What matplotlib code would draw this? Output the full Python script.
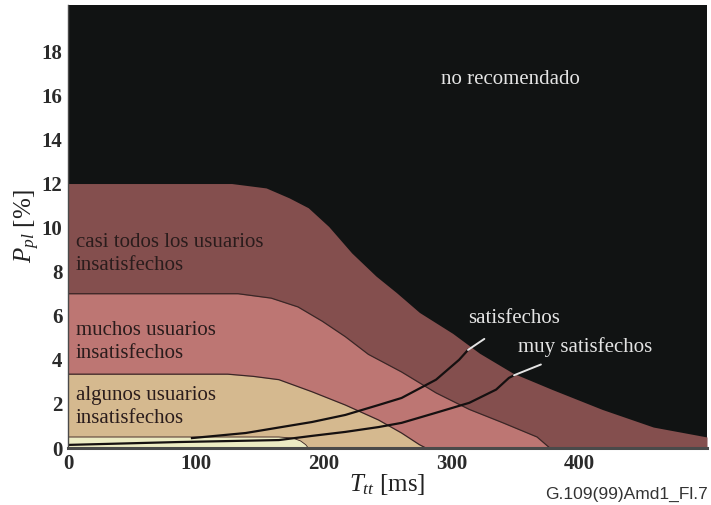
import matplotlib
matplotlib.use("Agg")
import matplotlib.pyplot as plt

plt.rcParams['mathtext.fontset'] = 'custom'
plt.rcParams['mathtext.rm'] = 'Liberation Serif'
plt.rcParams['mathtext.it'] = 'Liberation Serif:italic'
plt.rcParams['font.family'] = ['Liberation Serif', 'DejaVu Serif']

# ---- data (T [ms], P [%]) ----
casi_x = [0, 128, 155, 173, 188, 204, 222, 241, 257, 275, 301, 322, 348, 379, 418, 458, 500]
casi_y = [12, 12, 11.8, 11.35, 10.9, 10.05, 8.85, 7.8, 7.05, 6.15, 5.2, 4.3, 3.4, 2.65, 1.75, 0.95, 0.5]

muchos_x = [0, 133, 159, 180, 199, 217, 235, 261, 288, 314, 340, 367, 377]
muchos_y = [7, 7, 6.8, 6.4, 5.75, 5.05, 4.25, 3.45, 2.5, 1.75, 1.15, 0.5, 0]

algunos_x = [0, 125, 145, 165, 191, 217, 243, 261, 275, 280]
algunos_y = [3.35, 3.35, 3.25, 3.1, 2.55, 1.95, 1.27, 0.68, 0.15, 0]

light_x = [0, 165, 176, 182, 186, 188]
light_y = [0.5, 0.5, 0.45, 0.32, 0.15, 0]

sat_x = [97, 139, 191, 217, 243, 261, 288, 306, 313]
sat_y = [0.45, 0.68, 1.18, 1.5, 1.95, 2.27, 3.1, 4.0, 4.45]

muy_x = [0, 86, 165, 191, 217, 243, 261, 288, 314, 335, 345, 349]
muy_y = [0.14, 0.27, 0.36, 0.55, 0.73, 0.95, 1.14, 1.6, 2.05, 2.65, 3.18, 3.3]

region_labels = ["no recomendado",
                 "casi todos los usuarios\ninsatisfechos",
                 "muchos usuarios\ninsatisfechos",
                 "algunos usuarios\ninsatisfechos"]
curve_labels = ["satisfechos", "muy satisfechos"]
xticks = [0, 100, 200, 300, 400]
yticks = [0, 2, 4, 6, 8, 10, 12, 14, 16, 18]

c_black = '#111313'
c_casi = '#844f4e'
c_muchos = '#bd7673'
c_algunos = '#d5b98f'
c_light = '#ecebc3'
c_edge = '#3a2626'

fig = plt.figure(figsize=(7.11, 5.05), dpi=100)
ax = fig.add_axes([68/711, (505-448)/505, (707-68)/711, (448-5)/505])
ax.set_facecolor(c_black)

ax.fill_between(casi_x, 0, casi_y, color=c_casi, lw=0)
ax.fill_between(muchos_x, 0, muchos_y, color=c_muchos, lw=0)
ax.plot(muchos_x, muchos_y, color=c_edge, lw=0.9)
ax.fill_between(algunos_x, 0, algunos_y, color=c_algunos, lw=0)
ax.plot(algunos_x, algunos_y, color=c_edge, lw=0.9)
ax.fill_between(light_x, 0, light_y, color=c_light, lw=0)
ax.plot(light_x, light_y, color=c_edge, lw=0.6)

ax.plot(sat_x, sat_y, color='#151010', lw=1.6)
ax.plot(muy_x, muy_y, color='#151010', lw=1.6)

ax.set_xlim(0, 500)
ax.set_ylim(0, 20.1)

txt_dark = '#2a1c1c'
fs = 15
ax.text(346, 16.7, region_labels[0], color='#e4e4e4', fontsize=fs, ha='center', va='center')
ax.text(6, 8.8, region_labels[1], color=txt_dark, fontsize=fs, ha='left', va='center', linespacing=1.3)
ax.text(6, 4.8, region_labels[2], color=txt_dark, fontsize=fs, ha='left', va='center', linespacing=1.3)
ax.text(6, 1.85, region_labels[3], color=txt_dark, fontsize=fs, ha='left', va='center', linespacing=1.3)

ax.annotate(curve_labels[0], xy=(sat_x[-1], sat_y[-1]), xytext=(349, 5.86),
            color='#e4e4e4', fontsize=fs, ha='center', va='center',
            arrowprops=dict(arrowstyle='-', color='#e4e4e4', lw=1.4,
                            shrinkA=10, shrinkB=0))
ax.annotate(curve_labels[1], xy=(muy_x[-1], muy_y[-1]), xytext=(405, 4.6),
            color='#e4e4e4', fontsize=fs, ha='center', va='center',
            arrowprops=dict(arrowstyle='-', color='#e4e4e4', lw=1.4,
                            shrinkA=10, shrinkB=0))

ax.set_xticks(xticks)
ax.set_yticks(yticks)
ax.tick_params(length=0, labelsize=15, pad=4)
for lab in ax.get_xticklabels() + ax.get_yticklabels():
    lab.set_fontweight('bold')
    lab.set_color('#2a2a2a')

for s in ['top', 'right']:
    ax.spines[s].set_visible(False)
ax.spines['bottom'].set_color('#4a4a4a')
ax.spines['bottom'].set_linewidth(2.2)
ax.spines['left'].set_color('#4a4a4a')
ax.spines['left'].set_linewidth(1.0)

ax.set_xlabel(r'$T_{tt}$ [ms]', fontsize=18, labelpad=-1, color='#222222')
ax.set_ylabel(r'$P_{pl}$ [%]', fontsize=18, labelpad=0, color='#222222')

fig.text(708/711, (505-494)/505, 'G.109(99)Amd1_Fl.7', family='Liberation Sans',
         fontsize=12.5, ha='right', va='center', color='#333333')

fig.savefig('out.png', dpi=100)
